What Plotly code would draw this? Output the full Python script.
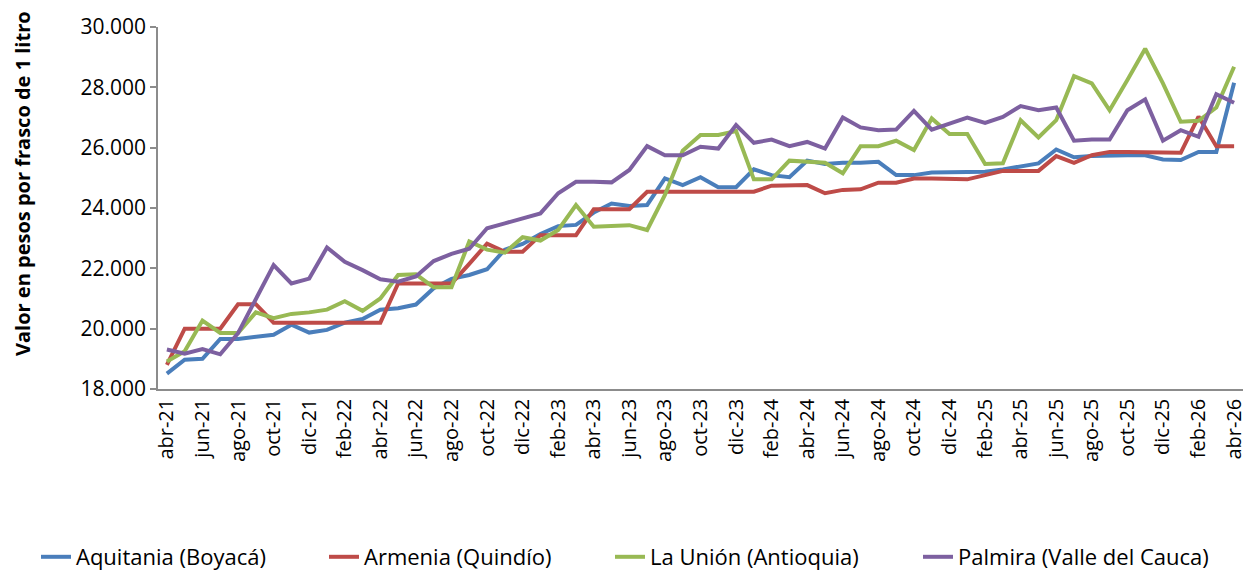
import plotly.graph_objects as go

categories = [
    "abr-21", "may-21", "jun-21", "jul-21", "ago-21", "sep-21", "oct-21", "nov-21", "dic-21",
    "ene-22", "feb-22", "mar-22", "abr-22", "may-22", "jun-22", "jul-22", "ago-22", "sep-22", "oct-22", "nov-22", "dic-22",
    "ene-23", "feb-23", "mar-23", "abr-23", "may-23", "jun-23", "jul-23", "ago-23", "sep-23", "oct-23", "nov-23", "dic-23",
    "ene-24", "feb-24", "mar-24", "abr-24", "may-24", "jun-24", "jul-24", "ago-24", "sep-24", "oct-24", "nov-24", "dic-24",
    "ene-25", "feb-25", "mar-25", "abr-25", "may-25", "jun-25", "jul-25", "ago-25", "sep-25", "oct-25", "nov-25", "dic-25",
    "ene-26", "feb-26", "mar-26", "abr-26",
]

aquitania = [
    18510, 18970, 19000, 19660, 19660, 19740, 19800, 20130, 19870,
    19960, 20200, 20320, 20630, 20680, 20800, 21340, 21650, 21780, 21970, 22620, 22810,
    23140, 23400, 23440, 23850, 24150, 24070, 24100, 24980, 24760, 25020, 24690, 24690,
    25280, 25090, 25020, 25570, 25460, 25500, 25500, 25530, 25090, 25090, 25180, 25180,
    25200, 25200, 25280, 25370, 25480, 25940, 25680, 25720, 25750, 25750, 25750, 25610,
    25590, 25860, 25860, 28150,
]

armenia = [
    18800, 20000, 20000, 20000, 20810, 20810, 20200, 20200, 20200,
    20200, 20200, 20200, 20200, 21500, 21500, 21500, 21500, 22150, 22820, 22550, 22550,
    23100, 23100, 23100, 23960, 23960, 23960, 24540, 24540, 24540, 24540, 24540, 24540,
    24540, 24740, 24760, 24760, 24490, 24600, 24620, 24840, 24840, 24980, 24980, 24970,
    24950, 25090, 25230, 25230, 25230, 25720, 25500, 25750, 25860, 25860, 25860, 25830,
    25830, 27030, 26050, 26050,
]

la_union = [
    18910, 19250, 20270, 19860, 19860, 20540, 20350, 20490, 20540,
    20630, 20910, 20590, 21000, 21780, 21800, 21370, 21370, 22890, 22620, 22520, 23030,
    22920, 23270, 24100, 23380, 23420, 23430, 23270, 24430, 25900, 26420, 26420, 26550,
    24950, 24950, 25570, 25530, 25500, 25150, 26050, 26050, 26230, 25920, 26970, 26450,
    26450, 25460, 25480, 26910, 26340, 26910, 28370, 28130, 27240, 28240, 29280, 28130,
    26860, 26890, 27330, 28680,
]

palmira = [
    19310, 19170, 19320, 19150, 19850, 20980, 22110, 21500, 21660,
    22690, 22220, 21940, 21640, 21560, 21730, 22240, 22480, 22650, 23330, 23490, 23660,
    23820, 24490, 24870, 24870, 24850, 25260, 26050, 25750, 25750, 26030, 25970, 26750,
    26160, 26270, 26050, 26190, 25970, 27000, 26670, 26580, 26600, 27220, 26600, 26800,
    27000, 26820, 27020, 27380, 27240, 27330, 26230, 26270, 26270, 27240, 27600, 26230,
    26580, 26360, 27770, 27490,
]

series_names = ["Aquitania (Boyacá)", "Armenia (Quindío)", "La Unión (Antioquia)", "Palmira (Valle del Cauca)"]
series_values = [aquitania, armenia, la_union, palmira]
colors = ["#4A7EBB", "#BE4B48", "#98B954", "#7D60A0"]
legend_ids = ["legend", "legend2", "legend3", "legend4"]
legend_text_px = [76, 364, 650, 958]

tick_labels = categories[::2]

FONT = "Open Sans"

fig = go.Figure()
for name, vals, col, lg in zip(series_names, series_values, colors, legend_ids):
    fig.add_trace(go.Scatter(
        x=categories, y=vals, mode="lines", name=name,
        line=dict(color=col, width=4),
        legend=lg,
    ))

L, R, T, B = 158, 5, 27, 184
W, H = 1248, 573
pw = W - L - R
ph = H - T - B

legend_layouts = {}
for lg, px in zip(legend_ids, legend_text_px):
    legend_layouts[lg] = dict(
        xref="container", yref="container",
        x=(px - 40) / W, xanchor="left",
        y=1 - 557 / H, yanchor="middle",
        orientation="h",
        font=dict(family=FONT, size=22, color="#000000"),
        bgcolor="rgba(0,0,0,0)",
        itemwidth=30,
    )

fig.update_layout(
    width=W, height=H,
    margin=dict(l=L, r=R, t=T, b=B, autoexpand=False),
    paper_bgcolor="white", plot_bgcolor="white",
    separators=",.",
    showlegend=True,
    font=dict(family=FONT, color="#000000"),
    xaxis=dict(
        type="category",
        range=[-0.5, len(categories) - 0.5],
        tickmode="array", tickvals=tick_labels, ticktext=tick_labels,
        tickangle=-90,
        tickfont=dict(family=FONT, size=20, color="#000000"),
        showline=True, linecolor="#8C8C8C", linewidth=1.5,
        showgrid=False, ticks="", zeroline=False,
        automargin=False,
    ),
    yaxis=dict(
        range=[18000, 30000], dtick=2000, tick0=18000,
        tickformat=",.0f",
        tickfont=dict(family=FONT, size=21, color="#000000"),
        showline=True, linecolor="#8C8C8C", linewidth=1.5,
        ticks="outside", ticklen=6, tickcolor="#8C8C8C", tickwidth=1.5,
        showgrid=False, zeroline=False,
        automargin=False,
    ),
    annotations=[dict(
        text="<b>Valor en pesos por frasco de 1 litro</b>",
        xref="paper", yref="paper",
        x=(23 - L) / pw, y=(H - B - 184) / ph,
        xanchor="center", yanchor="middle",
        textangle=-90, showarrow=False,
        font=dict(family=FONT, size=20, color="#000000"),
    )],
    **legend_layouts,
)

fig.write_html(
    "out.html",
    config={"displayModeBar": False},
    post_script="document.body.style.margin='0';document.body.style.overflow='hidden';",
)
